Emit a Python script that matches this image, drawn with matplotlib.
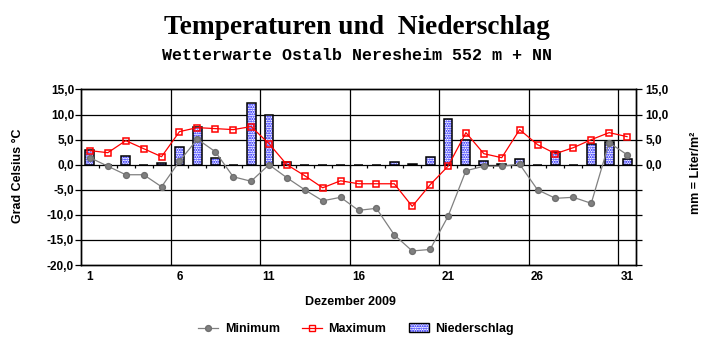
import matplotlib
matplotlib.use("Agg")
import matplotlib.pyplot as plt
from matplotlib.lines import Line2D
from matplotlib.patches import Patch
from matplotlib.legend_handler import HandlerTuple
import numpy as np

days = list(range(1, 32))
t_min = [1.4, -0.3, -2.0, -2.0, -4.4, 0.7, 5.1, 2.6, -2.4, -3.3, 0.0,
         -2.6, -5.0, -7.2, -6.5, -9.1, -8.7, -14.0, -17.2, -16.9, -10.3,
         -1.2, -0.3, -0.3, 0.1, -5.0, -6.7, -6.5, -7.7, 4.4, 2.0]
t_max = [2.8, 2.4, 4.8, 3.2, 1.6, 6.6, 7.4, 7.2, 7.0, 7.6, 4.2,
         0.0, -2.2, -4.6, -3.2, -3.8, -3.8, -3.8, -8.3, -4.0, -0.3,
         6.4, 2.2, 1.4, 7.0, 4.0, 2.2, 3.4, 5.0, 6.4, 5.6]
precip = [3.0, 0.0, 1.8, 0.0, 0.4, 3.6, 7.6, 1.4, 0.0, 12.3, 10.0,
          0.6, 0.0, 0.0, 0.0, 0.0, 0.0, 0.6, 0.1, 1.6, 9.2,
          4.9, 0.8, 0.1, 1.2, 0.0, 2.5, 0.0, 4.2, 4.6, 1.2]
xtick_days = [1, 6, 11, 16, 21, 26, 31]
left_ticks = [-20, -15, -10, -5, 0, 5, 10, 15]
right_labeled = [0, 5, 10, 15]

plt.rcParams["hatch.linewidth"] = 1.0
sans = "Liberation Sans"
W, H = 715, 352
fig = plt.figure(figsize=(W / 100, H / 100), dpi=100)
fig.patch.set_facecolor("white")

x0, x1 = 81, 636
ytop, ybot = 89.5, 265
ax = fig.add_axes([x0 / W, 1 - ybot / H, (x1 - x0) / W, (ybot - ytop) / H])
ax.set_xlim(0.5, 31.5)
ax.set_ylim(-20, 15)

# grid
for v in left_ticks[1:-1]:
    ax.axhline(v, color="black", lw=0.9, zorder=1)
for b in np.arange(5.5, 31, 5):
    ax.axvline(b, color="black", lw=0.9, zorder=1)
# small ticks on zero line
for b in np.arange(1.5, 31, 1):
    ax.plot([b, b], [0, -0.65], color="black", lw=0.9, zorder=1, solid_capstyle="butt")

HATCH = "......."
# bars
ax.bar(days, precip, width=0.5, facecolor="white", edgecolor="#0000ff",
       hatch=HATCH, linewidth=0, zorder=2)
ax.bar(days, precip, width=0.5, fill=False, edgecolor="black",
       linewidth=1.1, zorder=3)

ax.plot(days, t_min, color="#808080", lw=0.9, marker="o", markersize=4.2,
        markerfacecolor="#808080", markeredgecolor="#707070", zorder=4)
ax.plot(days, t_max, color="#ff0000", lw=0.9, marker="s", markersize=4.8,
        markerfacecolor="none", markeredgecolor="#ff0000", markeredgewidth=1.1, zorder=5)

for s in ax.spines.values():
    s.set_color("black")
    s.set_linewidth(1.0)

ax.set_yticks(left_ticks)
ax.set_yticklabels([f"{v:.1f}".replace(".", ",") for v in left_ticks],
                   fontfamily=sans, fontweight="bold", fontsize=8.5)
ax.tick_params(axis="y", direction="out", length=4, width=0.9, pad=1)
ax.set_xticks(xtick_days)
ax.set_xticklabels([str(d) for d in xtick_days], fontfamily=sans,
                   fontweight="bold", fontsize=8.5)
ax.tick_params(axis="x", length=0, pad=4)

ax2 = ax.twinx()
ax2.set_ylim(-20, 15)
ax2.set_yticks(left_ticks)
ax2.set_yticklabels([f"{v:.1f}".replace(".", ",") if v in right_labeled else ""
                     for v in left_ticks],
                    fontfamily=sans, fontweight="bold", fontsize=8.5)
ax2.tick_params(axis="y", direction="out", length=4, width=0.9, pad=3)
for s in ax2.spines.values():
    s.set_linewidth(1.0)

fig.text(18 / W, 1 - 176 / H, "Grad Celsius °C", rotation=90, ha="center",
         va="center", fontfamily=sans, fontweight="bold", fontsize=9)
fig.text(696 / W, 1 - 173 / H, "mm = Liter/m²", rotation=90, ha="center",
         va="center", fontfamily=sans, fontweight="bold", fontsize=9)
fig.text(350 / W, 1 - 302 / H, "Dezember 2009", ha="center", va="center",
         fontfamily=sans, fontweight="bold", fontsize=9)

fig.text(356.5 / W, 1 - 27 / H, "Temperaturen und  Niederschlag", ha="center",
         va="center", fontfamily="Liberation Serif", fontweight="bold", fontsize=19.7)
fig.text(357 / W, 1 - 55 / H, "Wetterwarte Ostalb Neresheim 552 m + NN",
         ha="center", va="center", fontfamily="Liberation Mono",
         fontweight="bold", fontsize=12)

handles = [
    Line2D([], [], color="#808080", lw=0.9, marker="o", markersize=4.2,
           markerfacecolor="#808080", markeredgecolor="#707070"),
    Line2D([], [], color="#ff0000", lw=0.9, marker="s", markersize=4.8,
           markerfacecolor="none", markeredgecolor="#ff0000"),
    (Patch(facecolor="white", edgecolor="#0000ff", hatch=HATCH, linewidth=0),
     Patch(fill=False, edgecolor="black", linewidth=1.0)),
]
leg = fig.legend(handles, ["Minimum", "Maximum", "Niederschlag"], ncol=3,
                 loc="center", bbox_to_anchor=(356 / W, 1 - 329 / H),
                 frameon=False, handlelength=1.6, handletextpad=0.5,
                 columnspacing=1.8,
                 handler_map={tuple: HandlerTuple(ndivide=1, pad=0)},
                 prop={"family": sans, "weight": "bold", "size": 9})

fig.savefig("out.png", dpi=100, facecolor="white")
